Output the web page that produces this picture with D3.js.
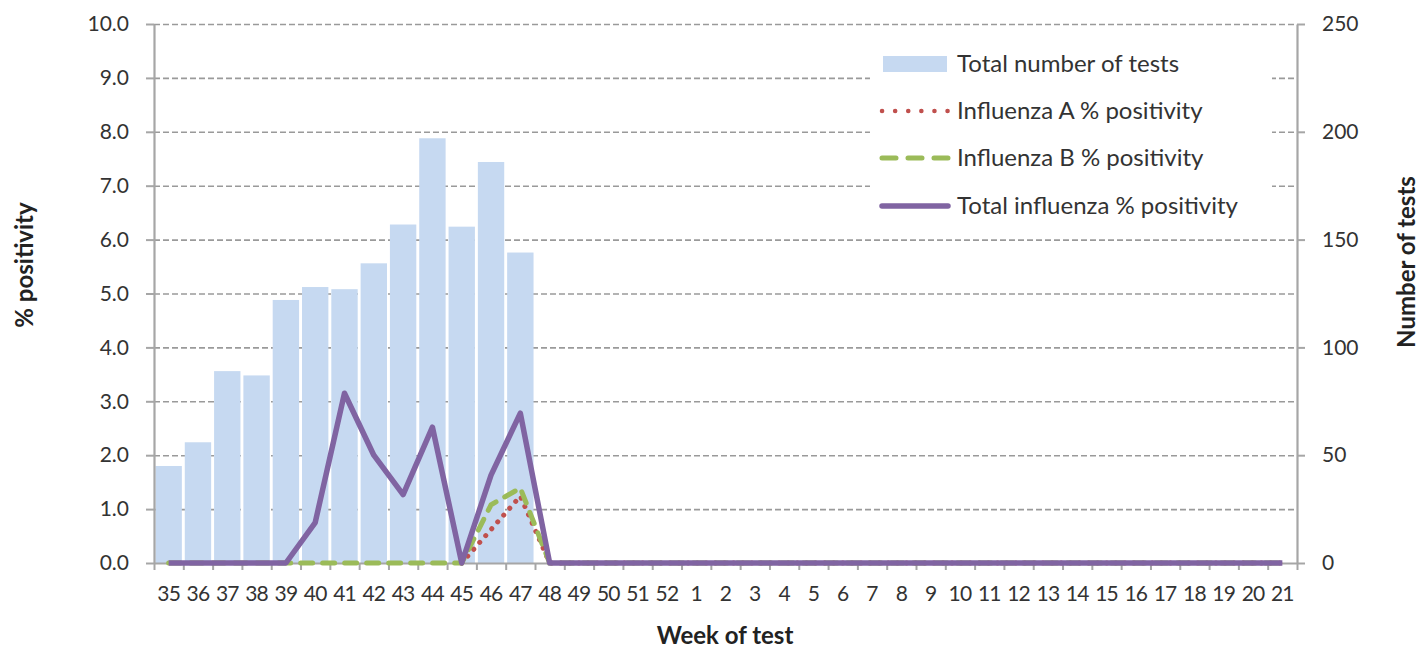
<!DOCTYPE html>
<html><head><meta charset="utf-8">
<script src="https://cdn.jsdelivr.net/npm/d3@7"></script>
<style>
body{margin:0;background:#fff;}
text{font-family:Lato,sans-serif;}
</style></head>
<body><svg id="c" width="1421" height="648"></svg>
<script>
const weeks = ["35","36","37","38","39","40","41","42","43","44","45","46","47","48","49","50","51","52",
  "1","2","3","4","5","6","7","8","9","10","11","12","13","14","15","16","17","18","19","20","21"];
const totalTests = [45,56,89,87,122,128,127,139,157,197,156,186,144,
  null,null,null,null,null,null,null,null,null,null,null,null,null,null,null,null,null,null,null,null,null,null,null,null,null,null];
const fluA = [null,null,null,null,null,null,null,null,null,null,0,0.62,1.24,0,
  0,0,0,0,0,0,0,0,0,0,0,0,0,0,0,0,0,0,0,0,0,0,0,0,0];
const fluB = [0,0,0,0,0,0,0,0,0,0,0,1.08,1.39,0,
  0,0,0,0,0,0,0,0,0,0,0,0,0,0,0,0,0,0,0,0,0,0,0,0,0];
const fluTotal = [0,0,0,0,0,0.75,3.15,2.0,1.27,2.52,0,1.63,2.78,0,
  0,0,0,0,0,0,0,0,0,0,0,0,0,0,0,0,0,0,0,0,0,0,0,0,0];
const leftTicks = [0,1,2,3,4,5,6,7,8,9,10];
const rightTicks = [0,50,100,150,200,250];
const legendLabels = ["Total number of tests","Influenza A % positivity","Influenza B % positivity","Total influenza % positivity"];

const L = 154, R = 1297, T = 24, B = 563;
const svg = d3.select("#c");
const x = d3.scaleBand().domain(weeks).range([L, R]).paddingInner(0.1).paddingOuter(0.05);
const xb = d3.scaleLinear().domain([0, weeks.length]).range([L, R]);
const yL = d3.scaleLinear().domain([0, 10]).range([B, T]);
const yR = d3.scaleLinear().domain([0, 250]).range([B, T]);
const axisCol = "#a6a6a6", textCol = "#333", fs = 21;

// gridlines
const grid = svg.append("g").attr("transform", `translate(${L},0)`)
  .call(d3.axisLeft(yL).tickValues(leftTicks.slice(1)).tickSize(-(R - L)).tickFormat(""));
grid.select(".domain").remove();
grid.selectAll("line").attr("stroke", "#9a9a9a").attr("stroke-width", 1.6).attr("stroke-dasharray", "6,3");

// bars
svg.append("g").selectAll("rect").data(weeks.map((w, i) => ({w, v: totalTests[i]})).filter(d => d.v != null))
  .join("rect")
  .attr("x", d => x(d.w)).attr("width", x.bandwidth())
  .attr("y", d => yR(d.v)).attr("height", d => B - yR(d.v))
  .attr("fill", "#c6d9f1");

// left axis
const la = svg.append("g").attr("transform", `translate(${L},0)`)
  .call(d3.axisLeft(yL).tickValues(leftTicks).tickSize(8).tickSizeOuter(0).tickPadding(17).tickFormat(d3.format(".1f")));
// right axis
const ra = svg.append("g").attr("transform", `translate(${R},0)`)
  .call(d3.axisRight(yR).tickValues(rightTicks).tickSize(8).tickSizeOuter(0).tickPadding(17));
// bottom axis: tick marks at category boundaries
const ba = svg.append("g").attr("transform", `translate(0,${B})`)
  .call(d3.axisBottom(xb).tickValues(d3.range(weeks.length + 1)).tickSize(7).tickSizeOuter(0).tickFormat(""));
const bl = svg.append("g").attr("transform", `translate(0,${B})`)
  .call(d3.axisBottom(x).tickSize(0).tickPadding(23));
bl.select(".domain").remove();
[la, ra, ba].forEach(g => {
  g.select(".domain").attr("stroke", axisCol).attr("stroke-width", 2.2);
  g.selectAll(".tick line").attr("stroke", axisCol).attr("stroke-width", 2);
});
[la, ra, bl].forEach(g => g.selectAll("text").attr("fill", textCol).attr("font-size", fs).attr("font-family", "Lato,sans-serif"));
bl.selectAll("text").attr("letter-spacing", "-0.8");

// lines
const cx = w => x(w) + x.bandwidth() / 2;
const mk = arr => d3.line().defined((d, i) => arr[i] != null).x((d, i) => cx(weeks[i])).y((d, i) => yL(arr[i]));
svg.append("path").datum(weeks).attr("d", mk(fluA)(weeks)).attr("fill", "none")
  .attr("stroke", "#c0504d").attr("stroke-width", 5).attr("stroke-linecap", "round").attr("stroke-dasharray", "0.1,9");
svg.append("path").datum(weeks).attr("d", mk(fluB)(weeks)).attr("fill", "none")
  .attr("stroke", "#9bbb59").attr("stroke-width", 5).attr("stroke-linecap", "round").attr("stroke-dasharray", "12,10");
svg.append("path").datum(weeks).attr("d", mk(fluTotal)(weeks)).attr("fill", "none")
  .attr("stroke", "#8064a2").attr("stroke-width", 5.5).attr("stroke-linejoin", "round");

// legend
const lg = svg.append("g");
lg.append("rect").attr("x", 870).attr("y", 40).attr("width", 402).attr("height", 188).attr("fill", "#fff");
const rows = [64, 111, 158, 206];
lg.append("rect").attr("x", 883).attr("y", rows[0] - 8).attr("width", 64).attr("height", 16).attr("fill", "#c6d9f1");
lg.append("line").attr("x1", 882).attr("x2", 948).attr("y1", rows[1]).attr("y2", rows[1])
  .attr("stroke", "#c0504d").attr("stroke-width", 4.5).attr("stroke-linecap", "round").attr("stroke-dasharray", "0.1,13");
lg.append("line").attr("x1", 882).attr("x2", 948).attr("y1", rows[2]).attr("y2", rows[2])
  .attr("stroke", "#9bbb59").attr("stroke-width", 5).attr("stroke-linecap", "round").attr("stroke-dasharray", "14,12");
lg.append("line").attr("x1", 882).attr("x2", 948).attr("y1", rows[3]).attr("y2", rows[3])
  .attr("stroke", "#8064a2").attr("stroke-width", 5.5).attr("stroke-linecap", "round");
lg.selectAll("text.l").data(legendLabels).join("text").attr("class", "l")
  .attr("x", 957).attr("y", (d, i) => rows[i]).attr("dy", "0.35em")
  .attr("fill", textCol).attr("font-size", 24).text(d => d);

// axis titles
svg.append("text").attr("x", 725).attr("y", 644).attr("text-anchor", "middle")
  .attr("font-weight", "bold").attr("font-size", 24).attr("fill", "#222").text("Week of test");
svg.append("text").attr("transform", "translate(25,265) rotate(-90)").attr("text-anchor", "middle").attr("dy", "0.35em")
  .attr("font-weight", "bold").attr("font-size", 24).attr("fill", "#222").text("% positivity");
svg.append("text").attr("transform", "translate(1407,262) rotate(-90)").attr("text-anchor", "middle").attr("dy", "0.35em")
  .attr("font-weight", "bold").attr("font-size", 24).attr("fill", "#222").text("Number of tests");
</script></body></html>
